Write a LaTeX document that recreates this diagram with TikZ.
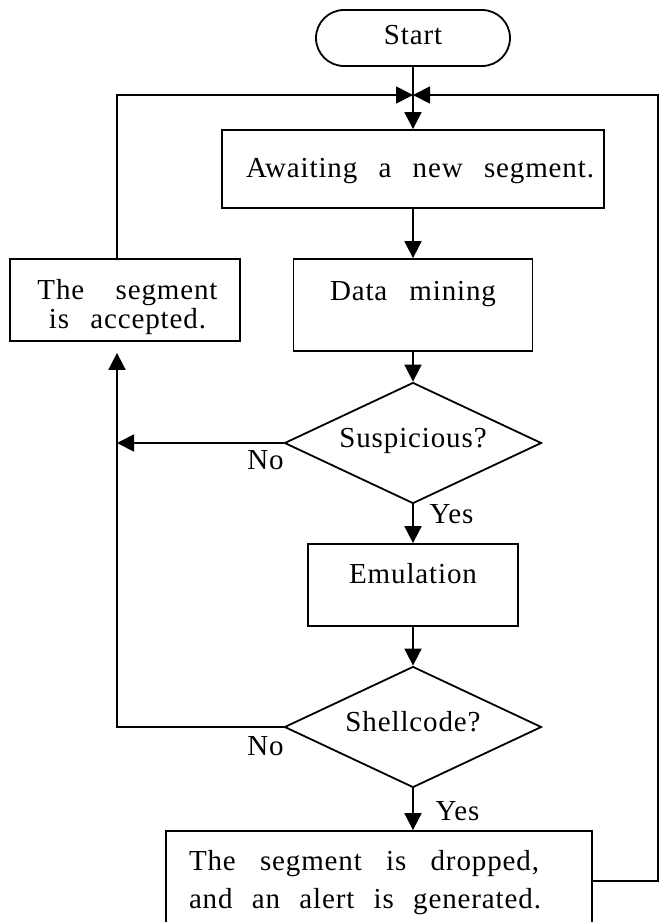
\documentclass[tikz,border=0pt]{standalone}
\usepackage{fontspec}
\setmainfont{Liberation Serif}[LetterSpace=3]
\usetikzlibrary{arrows.meta,shapes.geometric}
\newcommand{\mylift}[2]{\raisebox{#1}[19pt][6pt]{#2}}
\begin{document}
\begin{tikzpicture}[x=1pt,y=-1pt,
  every node/.style={font=\fontsize{29}{29}\selectfont, inner sep=0pt},
  box/.style={draw, rectangle, line width=1.8pt},
  decision/.style={draw, diamond, aspect=2.12, line width=1.8pt, minimum width=257pt, minimum height=121pt},
  ln/.style={line width=1.8pt},
  arr/.style={line width=1.8pt, -{Triangle[length=17pt,width=17pt]}},
  lbl/.style={inner sep=0pt}
]
\fill[white] (0,0) rectangle (659,922);
\useasboundingbox (0,0) rectangle (659,922);

\coordinate (merge) at (413,95);
\coordinate (leftx) at (117,0);
\coordinate (rightx) at (658,0);

\node[box, rounded corners=28pt, minimum width=194pt, minimum height=56pt] (start) at (413,38) {\mylift{0pt}{Start}};
\node[box, minimum width=382pt, minimum height=78pt] (await) at (413,169) {\mylift{-2pt}{\makebox[362pt][r]{\makebox[348pt][s]{Awaiting a new segment.}}}};
\node[box, minimum width=239pt, minimum height=92pt] (mine) at (413,305) {\mylift{11pt}{\makebox[166pt][s]{Data mining}}};
\node[box, minimum width=230pt, minimum height=82pt] (accept) at (125,300) {\raisebox{7.5pt}[19pt][6pt]{\begin{tabular}[t]{@{\hspace{5pt}}c@{}}\makebox[180pt][s]{The segment}\\ \makebox[157pt][s]{is accepted.}\end{tabular}}};
\node[decision] (susp) at (413,443) {\mylift{2.5pt}{Suspicious?}};
\node[box, minimum width=210pt, minimum height=82pt] (emul) at (413,585) {\mylift{8pt}{Emulation}};
\node[decision] (shell) at (413,727) {\mylift{2.5pt}{Shellcode?}};
\node[box, minimum width=426pt, minimum height=100pt] (drop) at (379,881) {\raisebox{17pt}[19pt][6pt]{\fontsize{29}{38}\selectfont\begin{tabular}[t]{@{}l@{\hspace{28pt}}}\makebox[350pt][s]{The segment is dropped,}\\ \makebox[352pt][s]{and an alert is generated.}\end{tabular}}};

\node[lbl] (no1) at (265.5,463) {\mylift{0pt}{No}};
\node[lbl] (no2) at (265.5,748.5) {\mylift{0pt}{No}};
\node[lbl] (yes1) at (451.5,517) {\mylift{0pt}{Yes}};
\node[lbl] (yes2) at (457.5,813.5) {\mylift{0pt}{Yes}};

\draw[ln] (start.south) -- (merge);
\draw[arr] (accept.north -| leftx) -- (leftx |- merge) -- (merge);
\draw[arr] (drop.east) -- (drop.east -| rightx) -- (rightx |- merge) -- (merge);
\draw[arr] (merge) -- (await.north);
\draw[arr] (await.south) -- (mine.north);
\draw[arr] (mine.south) -- (susp.north);
\draw[arr] (susp.west) -- (susp.west -| leftx);
\draw[arr] (susp.south) -- (emul.north);
\draw[arr] (emul.south) -- (shell.north);
\draw[arr, shorten >=11pt] (shell.west) -- (shell.west -| leftx) -- (leftx |- accept.south);
\draw[arr] (shell.south) -- (shell.south |- drop.north);
\end{tikzpicture}
\end{document}
